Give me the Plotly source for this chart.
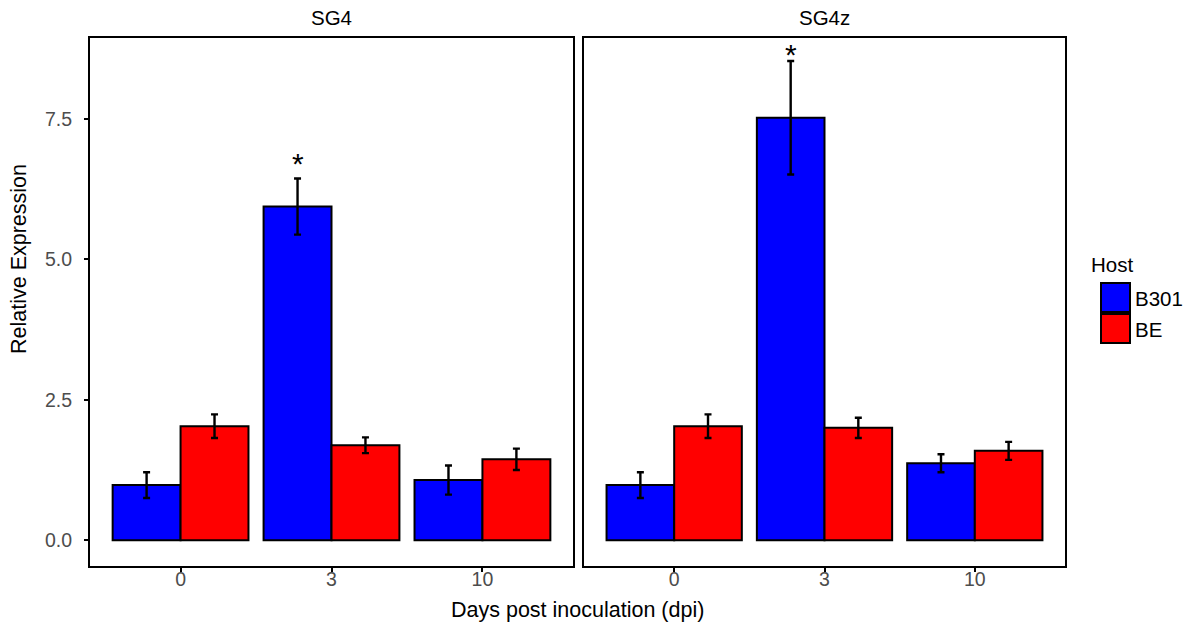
import plotly.graph_objects as go
from plotly.subplots import make_subplots

genes = ["SG4", "SG4z"]
dpi = ["0", "3", "10"]
hosts = ["B301", "BE"]
colors = ["#0000FF", "#FF0000"]

# mean relative expression [gene][host][dpi]
means = {
    "SG4": {"B301": [0.98, 5.94, 1.07], "BE": [2.03, 1.69, 1.44]},
    "SG4z": {"B301": [0.98, 7.52, 1.37], "BE": [2.03, 2.00, 1.59]},
}
errs = {
    "SG4": {"B301": [0.23, 0.50, 0.26], "BE": [0.21, 0.14, 0.19]},
    "SG4z": {"B301": [0.23, 1.01, 0.16], "BE": [0.21, 0.18, 0.16]},
}
# significance markers
star_gene = ["SG4", "SG4z"]
star_dpi = ["3", "3"]
star_y = [6.75, 8.69]

W, H = 1192, 630
panels_px = [(90, 573), (584, 1065)]
ytop_px, ybot_px = 38, 566

fig = make_subplots(rows=1, cols=2, shared_yaxes=True)

for gi, g in enumerate(genes):
    for hi, h in enumerate(hosts):
        fig.add_trace(
            go.Bar(
                x=dpi, y=means[g][h], name=h,
                marker=dict(color=colors[hi], line=dict(color="black", width=2)),
                error_y=dict(type="data", array=errs[g][h], color="black",
                             thickness=2.4, width=3.5),
                showlegend=False,
            ),
            row=1, col=gi + 1,
        )

font = "Liberation Sans, Arial, sans-serif"
axis_common = dict(
    showline=True, mirror=True, linecolor="black", linewidth=2,
    ticks="outside", ticklen=4, tickwidth=1.5, tickcolor="black",
    tickfont=dict(family=font, size=19.5, color="#4D4D4D"),
    showgrid=False, zeroline=False,
)

for i, (a, b) in enumerate(panels_px):
    fig.update_xaxes(domain=[a / W, b / W], range=[-0.6, 2.6], type="category",
                     ticklabelstandoff=-9, **axis_common, row=1, col=i + 1)
fig.update_yaxes(domain=[(H - ybot_px) / H, (H - ytop_px) / H],
                 range=[-0.46, 8.94], tickvals=[0, 2.5, 5, 7.5],
                 ticktext=["0.0", "2.5", "5.0", "7.5"], ticklabelstandoff=8, **axis_common)
fig.update_yaxes(ticks="", showticklabels=False, row=1, col=2)

annotations = []
for gi, g in enumerate(genes):
    a, b = panels_px[gi]
    annotations.append(dict(text=g, x=(a + b) / 2 / W, y=1 - 17 / H, xref="paper", yref="paper",
                            showarrow=False, font=dict(family=font, size=20.5, color="black"),
                            xanchor="center", yanchor="middle"))
px_per_unit = (panels_px[0][1] - panels_px[0][0]) / 3.2
for g, d, yv in zip(star_gene, star_dpi, star_y):
    gi = genes.index(g)
    annotations.append(dict(text="*", x=dpi.index(d), y=yv, xref=f"x{'' if gi == 0 else gi + 1}",
                            yref="y", showarrow=False, xshift=-0.225 * px_per_unit, yshift=-2,
                            font=dict(family=font, size=30, color="black"),
                            xanchor="center", yanchor="middle"))
annotations.append(dict(text="Days post inoculation (dpi)", x=577.5 / W, y=1 - 610 / H,
                        xref="paper", yref="paper", showarrow=False,
                        font=dict(family=font, size=21.5, color="black"), xanchor="center", yanchor="middle"))
annotations.append(dict(text="Relative Expression", x=19 / W, y=1 - 259 / H, textangle=-90,
                        xref="paper", yref="paper", showarrow=False,
                        font=dict(family=font, size=21.5, color="black"), xanchor="center", yanchor="middle"))
# legend
annotations.append(dict(text="Host", x=1089 / W, y=1 - 264 / H, xref="paper", yref="paper",
                        showarrow=False, font=dict(family=font, size=20.5, color="black"),
                        xanchor="left", yanchor="middle"))
shapes = []
for hi, h in enumerate(hosts):
    y0 = 282 + hi * 31
    shapes.append(dict(type="rect", xref="paper", yref="paper",
                       x0=1101 / W, x1=1130 / W, y0=1 - (y0 + 30) / H, y1=1 - (y0 + 1) / H,
                       fillcolor=colors[hi], line=dict(color="black", width=2)))
    annotations.append(dict(text=h, x=1133 / W, y=1 - (y0 + 16) / H, xref="paper", yref="paper",
                            showarrow=False, font=dict(family=font, size=20.5, color="black"),
                            xanchor="left", yanchor="middle"))

fig.update_layout(
    width=W, height=H, margin=dict(l=0, r=0, t=0, b=0),
    barmode="group", bargap=0.1, bargroupgap=0,
    plot_bgcolor="white", paper_bgcolor="white",
    annotations=annotations, shapes=shapes, showlegend=False,
)

fig.write_html("out.html", config={"displayModeBar": False},
               post_script="document.body.style.margin='0px';")
